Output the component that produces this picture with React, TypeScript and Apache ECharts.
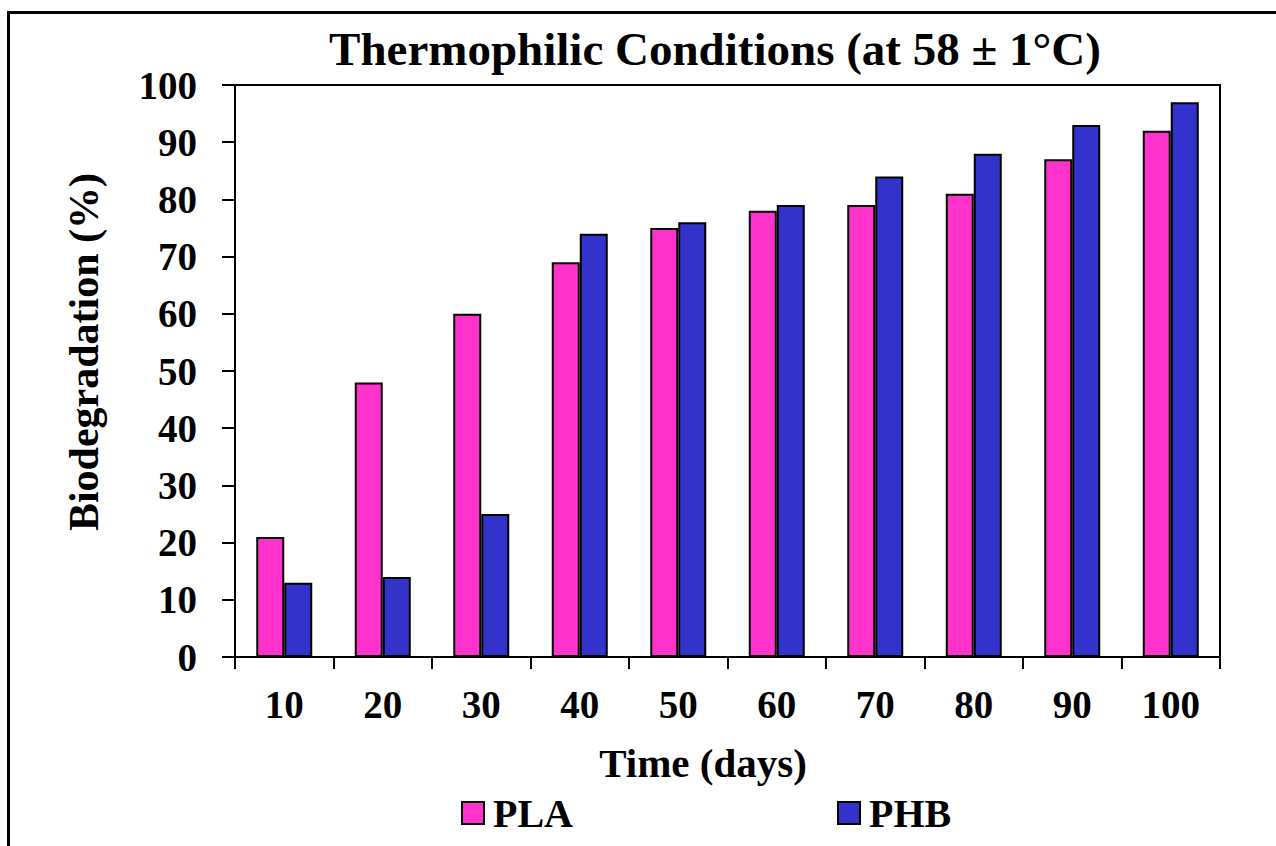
import React, { useEffect, useRef } from "react";
import * as echarts from "echarts";

const categories = ["10", "20", "30", "40", "50", "60", "70", "80", "90", "100"];
const plaValues = [21, 48, 60, 69, 75, 78, 79, 81, 87, 92];
const phbValues = [13, 14, 25, 74, 76, 79, 84, 88, 93, 97];
const seriesNames = ["PLA", "PHB"];
const titleText = "Thermophilic Conditions (at 58 ± 1°C)";
const yAxisName = "Biodegradation (%)";
const xAxisName = "Time (days)";

const FONT = '"Liberation Serif", "Times New Roman", serif';

export default function App() {
  const ref = useRef<HTMLDivElement>(null);
  useEffect(() => {
    if (!ref.current) return;
    const chart = echarts.init(ref.current, undefined, { renderer: "svg" });
    chart.setOption({
      animation: false,
      backgroundColor: "#ffffff",
      textStyle: { fontFamily: FONT },
      grid: {
        left: 235,
        right: 56,
        top: 85,
        bottom: 189,
        show: true,
        borderColor: "#000",
        borderWidth: 2,
        backgroundColor: "transparent",
      },
      legend: {
        data: seriesNames,
        left: 456,
        top: 788,
        itemWidth: 22,
        itemHeight: 22,
        itemGap: 264,
        icon: "rect",
        textStyle: {
          fontFamily: FONT,
          fontSize: 40,
          fontWeight: "bold",
          color: "#000",
          padding: [0, 0, 0, 4],
        },
      },
      xAxis: {
        type: "category",
        data: categories,
        boundaryGap: true,
        axisLine: { lineStyle: { color: "#000", width: 2 } },
        axisTick: { show: true, alignWithLabel: false, length: 12, lineStyle: { color: "#000", width: 2 } },
        axisLabel: {
          fontFamily: FONT,
          fontSize: 39,
          fontWeight: "bold",
          color: "#000",
          margin: 28,
          interval: 0,
        },
        splitLine: { show: false },
      },
      yAxis: {
        type: "value",
        min: 0,
        max: 100,
        interval: 10,
        axisLine: { show: true, lineStyle: { color: "#000", width: 2 } },
        axisTick: { show: true, length: 13, lineStyle: { color: "#000", width: 2 } },
        axisLabel: {
          fontFamily: FONT,
          fontSize: 39,
          fontWeight: "bold",
          color: "#000",
          margin: 38,
        },
        splitLine: { show: false },
      },
      series: [
        {
          name: seriesNames[0],
          type: "bar",
          data: plaValues,
          barWidth: 28,
          barGap: "0%",
          itemStyle: { color: "#ff33cc", borderColor: "#000", borderWidth: 2 },
        },
        {
          name: seriesNames[1],
          type: "bar",
          data: phbValues,
          barWidth: 28,
          barGap: "0%",
          itemStyle: { color: "#3333cc", borderColor: "#000", borderWidth: 2 },
        },
      ],
      graphic: [
        {
          type: "line",
          shape: { x1: 8, y1: 12.5, x2: 1276, y2: 12.5 },
          style: { stroke: "#000", lineWidth: 3 },
        },
        {
          type: "line",
          shape: { x1: 8.5, y1: 11, x2: 8.5, y2: 846 },
          style: { stroke: "#000", lineWidth: 3 },
        },
        {
          type: "text",
          x: 715,
          y: 49,
          style: {
            text: titleText,
            fontFamily: FONT,
            fontSize: 47,
            fontWeight: "bold",
            fill: "#000",
            align: "center",
            verticalAlign: "middle",
          },
        },
        {
          type: "text",
          x: 84,
          y: 352,
          rotation: Math.PI / 2,
          style: {
            text: yAxisName,
            fontFamily: FONT,
            fontSize: 42,
            fontWeight: "bold",
            fill: "#000",
            align: "center",
            verticalAlign: "middle",
          },
        },
        {
          type: "text",
          x: 703,
          y: 763,
          style: {
            text: xAxisName,
            fontFamily: FONT,
            fontSize: 41,
            fontWeight: "bold",
            fill: "#000",
            align: "center",
            verticalAlign: "middle",
          },
        },
      ],
    });
    return () => chart.dispose();
  }, []);
  return (
    <div
      ref={ref}
      style={{ position: "fixed", left: 0, top: 0, width: 1276, height: 846 }}
    />
  );
}
